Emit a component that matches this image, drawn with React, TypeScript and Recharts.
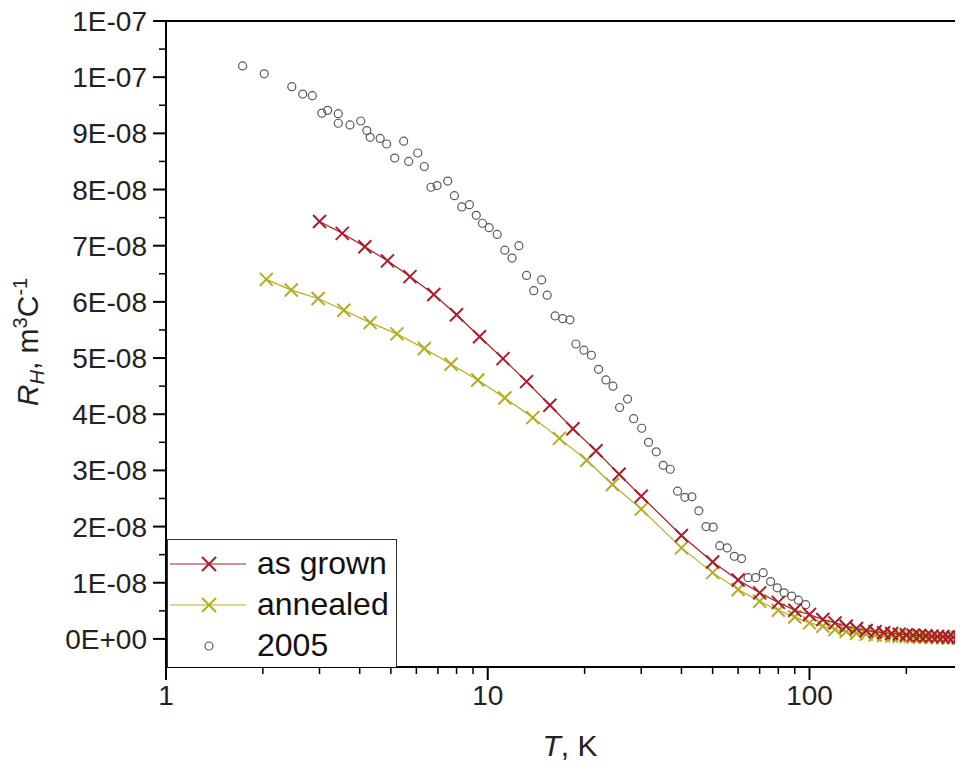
import React from 'react';
import {
  ScatterChart,
  Scatter,
  XAxis,
  YAxis,
  ReferenceLine,
  Legend,
  Label,
} from 'recharts';

// Hall coefficient R_H, in units of 1E-08 m^3/C, vs temperature T in K
const asGrownT = [
  3, 3.53, 4.15, 4.88, 5.73, 6.8, 8.0, 9.43, 11.15, 13.2, 15.6, 18.4, 21.7, 25.6, 30,
  40, 50, 60, 70, 80, 90, 100, 110, 120, 130, 140, 150, 160, 170, 180, 190, 200,
  210, 220, 230, 240, 250, 260, 270, 280, 290, 300,
];
const asGrownRH = [
  7.43, 7.22, 6.98, 6.73, 6.45, 6.13, 5.77, 5.38, 4.99, 4.58, 4.16, 3.74, 3.35, 2.93, 2.54,
  1.84, 1.37, 1.05, 0.82, 0.65, 0.51, 0.435, 0.346, 0.285, 0.226, 0.185, 0.15, 0.13, 0.11,
  0.095, 0.085, 0.075, 0.068, 0.06, 0.055, 0.05, 0.045, 0.04, 0.035, 0.03, 0.025, 0.02,
];

const annealedT = [
  2.05, 2.45, 2.97, 3.57, 4.31, 5.22, 6.35, 7.69, 9.31, 11.3, 13.8, 16.7, 20.3, 24.4, 30,
  40, 50, 60, 70, 80, 90, 100, 110, 120, 130, 140, 150, 160, 170, 180, 190, 200,
  210, 220, 230, 240, 250, 260, 270,
];
const annealedRH = [
  6.4, 6.21, 6.06, 5.85, 5.63, 5.43, 5.17, 4.89, 4.61, 4.29, 3.94, 3.57, 3.18, 2.75, 2.31,
  1.62, 1.18, 0.88, 0.67, 0.51, 0.39, 0.285, 0.226, 0.168, 0.13, 0.1, 0.085, 0.07, 0.06,
  0.05, 0.045, 0.04, 0.035, 0.03, 0.028, 0.025, 0.02, 0.018, 0.015,
];

const ref2005T = [
  1.73, 2.02, 2.46, 2.66, 2.85, 3.05, 3.18, 3.43, 3.43, 3.73, 4.03, 4.21, 4.31, 4.63, 4.85,
  5.14, 5.48, 5.68, 6.06, 6.35, 6.66, 6.96, 7.51, 7.88, 8.3, 8.77, 9.21, 9.63, 10.1, 10.7,
  11.3, 11.9, 12.5, 13.2, 13.9, 14.7, 15.3, 16.2, 17.1, 18.0, 18.8, 19.9, 21.0, 22.1, 23.3,
  24.5, 25.7, 27.2, 28.4, 30.1, 31.6, 33.4, 35.1, 36.9, 38.9, 41.0, 43.1, 45.3, 47.7, 50.2,
  52.6, 55.5, 58.4, 61.5, 64.4, 68.0, 71.8, 75.7, 79.4, 83.4, 88.1, 92.4, 97.3,
];
const ref2005RH = [
  10.2, 10.06, 9.83, 9.7, 9.67, 9.36, 9.41, 9.35, 9.18, 9.15, 9.22, 9.05, 8.93, 8.91, 8.81,
  8.56, 8.86, 8.5, 8.65, 8.41, 8.04, 8.07, 8.15, 7.89, 7.69, 7.73, 7.54, 7.4, 7.32, 7.2,
  6.92, 6.78, 7.0, 6.47, 6.2, 6.39, 6.12, 5.75, 5.7, 5.68, 5.25, 5.14, 5.05, 4.8, 4.61,
  4.5, 4.12, 4.27, 3.92, 3.75, 3.5, 3.33, 3.09, 3.02, 2.63, 2.52, 2.53, 2.28, 2.0, 1.99,
  1.66, 1.62, 1.47, 1.43, 1.09, 1.09, 1.18, 1.02, 0.91, 0.82, 0.76, 0.69, 0.61,
];

const seriesNames = ['as grown', 'annealed', '2005'];

const xTicks = [1, 2, 3, 4, 5, 6, 7, 8, 9, 10, 20, 30, 40, 50, 60, 70, 80, 90, 100, 200, 300];
const xLabelTicks = [1, 10, 100];
const yTicks = [0, 0.5, 1, 1.5, 2, 2.5, 3, 3.5, 4, 4.5, 5, 5.5, 6, 6.5, 7, 7.5, 8, 8.5, 9, 9.5, 10, 10.5, 11];

const RED = '#aa1d2b';
const OLIVE = '#b4ad1e';
const GREY = '#5a5a5a';
const FONT = 'Arial, "Liberation Sans", sans-serif';

const toPoints = (t: number[], v: number[]) => t.map((x, i) => ({ t: x, rh: v[i] }));

const asGrown = toPoints(asGrownT, asGrownRH);
const annealed = toPoints(annealedT, annealedRH);
const ref2005 = toPoints(ref2005T, ref2005RH);

// tick value is in units of 1E-08
const sciLabel = (v: number) => {
  if (v === 0) return '0E+00';
  const val = v * 1e-8;
  const exp = Math.floor(Math.log10(val) + 1e-9);
  const mant = Math.round(val / Math.pow(10, exp));
  const e = Math.abs(exp).toString().padStart(2, '0');
  return `${mant}E${exp < 0 ? '-' : '+'}${e}`;
};

const crossShape = (color: string) => (props: any) => {
  const { cx, cy } = props;
  if (cx == null || cy == null) return <g />;
  const s = 6.5;
  return (
    <path
      d={`M${cx - s},${cy - s}L${cx + s},${cy + s}M${cx - s},${cy + s}L${cx + s},${cy - s}`}
      stroke={color}
      strokeWidth={2}
      fill="none"
    />
  );
};

const circleShape = (props: any) => {
  const { cx, cy } = props;
  if (cx == null || cy == null) return <g />;
  return <circle cx={cx} cy={cy} r={4} fill="none" stroke={GREY} strokeWidth={1.2} />;
};

const XTick = (props: any) => {
  const { x, y, payload } = props;
  const major = xLabelTicks.includes(payload.value);
  return (
    <g>
      <line x1={x} x2={x} y1={y} y2={y + (major ? 13 : 7)} stroke="#000" strokeWidth={major ? 2 : 1.5} />
      {major && (
        <text x={x} y={y + 38} textAnchor="middle" fontSize={28} fontFamily={FONT} fill="#222">
          {payload.value}
        </text>
      )}
    </g>
  );
};

const YTick = (props: any) => {
  const { x, y, payload } = props;
  const major = Number.isInteger(payload.value);
  return (
    <g>
      <line x1={x} x2={x - (major ? 13 : 7)} y1={y} y2={y} stroke="#000" strokeWidth={major ? 2 : 1.5} />
      {major && (
        <text x={x - 19} y={y + 10} textAnchor="end" fontSize={28} fontFamily={FONT} fill="#222">
          {sciLabel(payload.value)}
        </text>
      )}
    </g>
  );
};

const YTitle = () => (
  <text
    transform="translate(38, 342) rotate(-90)"
    textAnchor="middle"
    fontSize={30}
    fontFamily={FONT}
    fill="#222"
  >
    <tspan fontStyle="italic">R</tspan>
    <tspan fontStyle="italic" fontSize={20} dy={6}>H</tspan>
    <tspan dy={-6}>, m</tspan>
    <tspan fontSize={20} dy={-11}>3</tspan>
    <tspan dy={11}>C</tspan>
    <tspan fontSize={20} dy={-11}>-1</tspan>
  </text>
);

const XTitle = () => (
  <text x={570} y={756} textAnchor="middle" fontSize={30} fontFamily={FONT} fill="#222">
    <tspan fontStyle="italic">T</tspan>
    <tspan>, K</tspan>
  </text>
);

const legendSymbols = [
  { kind: 'cross', color: RED },
  { kind: 'cross', color: OLIVE },
  { kind: 'circle', color: GREY },
];

const LegendBox = () => (
  <div
    style={{
      width: 230,
      height: 128,
      boxSizing: 'border-box',
      border: '1.5px solid #333',
      borderBottom: 'none',
      background: '#fff',
      paddingTop: 3,
    }}
  >
    {seriesNames.map((name, i) => {
      const sym = legendSymbols[i];
      return (
        <div key={name} style={{ display: 'flex', alignItems: 'center', height: 41 }}>
          <svg width={86} height={30} style={{ flex: 'none' }}>
            {sym.kind === 'cross' ? (
              <g>
                <line x1={2} x2={78} y1={15} y2={15} stroke={sym.color} strokeWidth={1.2} />
                <path d="M34,8L48,22M34,22L48,8" stroke={sym.color} strokeWidth={2} fill="none" />
              </g>
            ) : (
              <circle cx={41} cy={15} r={4} fill="none" stroke={sym.color} strokeWidth={1.2} />
            )}
          </svg>
          <span style={{ fontFamily: FONT, fontSize: 32, color: '#111', marginLeft: 3 }}>{name}</span>
        </div>
      );
    })}
  </div>
);

export default function App() {
  return (
    <div style={{ margin: '-8px 0 0 -8px', width: 963, height: 771 }}>
      <ScatterChart width={963} height={771} margin={{ top: 21, right: 0, bottom: 0, left: 0 }}>
        <XAxis
          type="number"
          dataKey="t"
          scale="log"
          domain={[1, 300]}
          allowDataOverflow
          ticks={xTicks}
          interval={0}
          tick={<XTick />}
          tickLine={false}
          tickSize={0}
          tickMargin={0}
          height={104}
          axisLine={{ stroke: '#000', strokeWidth: 2 }}
        >
          <Label content={<XTitle />} />
        </XAxis>
        <YAxis
          type="number"
          dataKey="rh"
          domain={[-0.5, 11]}
          allowDataOverflow
          ticks={yTicks}
          interval={0}
          tick={<YTick />}
          tickLine={false}
          tickSize={0}
          tickMargin={0}
          width={166}
          axisLine={{ stroke: '#000', strokeWidth: 2 }}
        >
          <Label content={<YTitle />} />
        </YAxis>
        <ReferenceLine y={11} stroke="#000" strokeWidth={2} />
        <Scatter
          name={seriesNames[2]}
          data={ref2005}
          shape={circleShape}
          isAnimationActive={false}
        />
        <Scatter
          name={seriesNames[1]}
          data={annealed}
          line={{ stroke: OLIVE, strokeWidth: 1.2 }}
          shape={crossShape(OLIVE)}
          isAnimationActive={false}
        />
        <Scatter
          name={seriesNames[0]}
          data={asGrown}
          line={{ stroke: RED, strokeWidth: 1.2 }}
          shape={crossShape(RED)}
          isAnimationActive={false}
        />
        <Legend
          layout="vertical"
          align="center"
          verticalAlign="middle"
          wrapperStyle={{ left: 167, top: 539, width: 230, height: 128 }}
          content={() => <LegendBox />}
        />
      </ScatterChart>
    </div>
  );
}
